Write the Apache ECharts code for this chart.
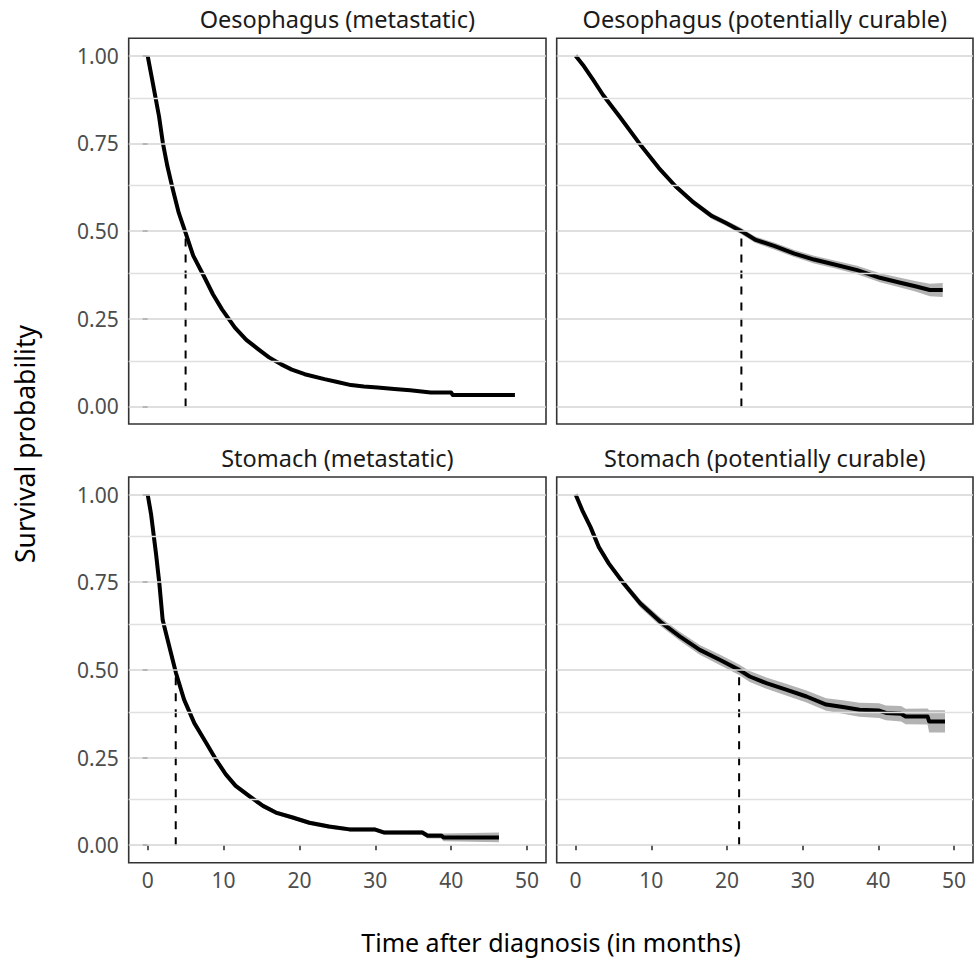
<!DOCTYPE html>
<html>
<head>
<meta charset="utf-8">
<script src="https://cdn.jsdelivr.net/npm/echarts@6/dist/echarts.min.js"></script>
<style>
  html, body { margin: 0; padding: 0; background: #fff; }
  #chart { width: 976px; height: 962px; }
</style>
</head>
<body>
<div id="chart"></div>
<script>
// ---- Data ----
const panelTitles = [
  'Oesophagus (metastatic)',
  'Oesophagus (potentially curable)',
  'Stomach (metastatic)',
  'Stomach (potentially curable)'
];

const xTickValues = [0, 10, 20, 30, 40, 50];
const yTickValues = [0, 0.25, 0.5, 0.75, 1];
const yTickLabels = ['0.00', '0.25', '0.50', '0.75', '1.00'];
const yMinorValues = [0.125, 0.375, 0.625, 0.875];

// Oesophagus (metastatic)
const oesMetTime = [0, 0.5, 1, 1.5, 2, 2.6, 3.3, 4.1, 5.0, 6.0, 7.4, 8.6, 9.8, 11.5, 13, 14.6, 16, 17.6, 19, 20.7, 23.3, 25, 26.8, 28.5, 30.3, 32.5, 34.6, 37.3, 40.0, 40.2, 48.4];
const oesMetSurv = [1, 0.943, 0.885, 0.827, 0.752, 0.685, 0.62, 0.552, 0.495, 0.43, 0.372, 0.32, 0.277, 0.225, 0.19, 0.163, 0.14, 0.12, 0.105, 0.092, 0.078, 0.07, 0.061, 0.057, 0.054, 0.05, 0.046, 0.040, 0.040, 0.033, 0.033];
const oesMetHalfCI = [0, 0.002, 0.003, 0.003, 0.004, 0.004, 0.004, 0.004, 0.004, 0.004, 0.004, 0.004, 0.004, 0.004, 0.003, 0.003, 0.003, 0.003, 0.003, 0.003, 0.003, 0.003, 0.003, 0.003, 0.003, 0.003, 0.003, 0.003, 0.003, 0.004, 0.005];
const oesMetMedian = 5.0;

// Oesophagus (potentially curable)
const oesCurTime = [0, 1.1, 2.3, 3.6, 5.8, 8.4, 11.0, 13.2, 15.4, 18.0, 19.8, 21.9, 23.7, 26.3, 28.9, 31.5, 34.2, 37.2, 40.2, 42.9, 45.0, 46.8, 48.5];
const oesCurSurv = [1, 0.97, 0.932, 0.889, 0.827, 0.751, 0.68, 0.628, 0.585, 0.543, 0.524, 0.5, 0.476, 0.457, 0.436, 0.419, 0.405, 0.389, 0.367, 0.353, 0.342, 0.332, 0.332];
const oesCurHalfCI = [0, 0.002, 0.003, 0.004, 0.005, 0.006, 0.007, 0.007, 0.008, 0.008, 0.008, 0.009, 0.009, 0.01, 0.01, 0.011, 0.011, 0.012, 0.013, 0.014, 0.015, 0.018, 0.02];
const oesCurMedian = 21.9;

// Stomach (metastatic)
const stoMetTime = [0, 0.44, 1.1, 1.54, 1.98, 2.86, 3.73, 4.8, 6.15, 7.7, 9.0, 10.3, 11.6, 13.4, 15.2, 16.9, 19.1, 21.3, 23.9, 26.6, 29.9, 31.2, 36.2, 36.9, 38.7, 39.0, 46.3];
const stoMetSurv = [1, 0.945, 0.831, 0.746, 0.642, 0.566, 0.491, 0.415, 0.348, 0.292, 0.244, 0.202, 0.169, 0.140, 0.112, 0.093, 0.079, 0.064, 0.053, 0.045, 0.045, 0.036, 0.036, 0.027, 0.027, 0.022, 0.022];
const stoMetHalfCI = [0, 0.003, 0.004, 0.005, 0.006, 0.007, 0.007, 0.008, 0.008, 0.008, 0.008, 0.008, 0.007, 0.007, 0.007, 0.006, 0.006, 0.006, 0.006, 0.006, 0.006, 0.006, 0.007, 0.008, 0.008, 0.011, 0.014];
const stoMetMedian = 3.7;

// Stomach (potentially curable)
const stoCurTime = [0, 0.88, 1.97, 3.07, 4.39, 6.36, 8.55, 11.2, 13.8, 16.4, 19.1, 21.6, 23.0, 25.2, 27.9, 30.5, 33.1, 35.3, 37.5, 40.1, 41.0, 43.0, 43.6, 46.5, 46.7, 48.8];
const stoCurSurv = [1, 0.955, 0.907, 0.85, 0.803, 0.746, 0.689, 0.637, 0.595, 0.557, 0.528, 0.5, 0.481, 0.462, 0.443, 0.424, 0.401, 0.394, 0.386, 0.384, 0.377, 0.375, 0.367, 0.367, 0.353, 0.353];
const stoCurHalfCI = [0, 0.004, 0.006, 0.008, 0.009, 0.01, 0.011, 0.012, 0.013, 0.014, 0.015, 0.015, 0.016, 0.016, 0.017, 0.017, 0.018, 0.019, 0.02, 0.021, 0.021, 0.022, 0.022, 0.023, 0.032, 0.032];
const stoCurMedian = 21.6;

const xAxisTitle = 'Time after diagnosis (in months)';
const yAxisTitle = 'Survival probability';

// ---- Build chart ----
const panels = [
  { time: oesMetTime, surv: oesMetSurv, hw: oesMetHalfCI, median: oesMetMedian },
  { time: oesCurTime, surv: oesCurSurv, hw: oesCurHalfCI, median: oesCurMedian },
  { time: stoMetTime, surv: stoMetSurv, hw: stoMetHalfCI, median: stoMetMedian },
  { time: stoCurTime, surv: stoCurSurv, hw: stoCurHalfCI, median: stoCurMedian }
];

const FONT = '"Noto Sans", "Open Sans", sans-serif';
const grids = [
  { left: 128.7, top: 38.3, width: 417.3, height: 385.7 },
  { left: 556.7, top: 38.3, width: 416.3, height: 385.7 },
  { left: 128.7, top: 477,  width: 417.3, height: 385.7 },
  { left: 556.7, top: 477,  width: 416.3, height: 385.7 }
];

const option = {
  animation: false,
  backgroundColor: '#ffffff',
  grid: grids.map(g => Object.assign({
    show: true, borderColor: '#333333', borderWidth: 1.6, backgroundColor: 'transparent',
    containLabel: false
  }, g)),
  xAxis: grids.map((g, i) => ({
    type: 'value', gridIndex: i, min: -2.5, max: 52.5,
    axisLine: { show: false },
    splitLine: { show: false },
    axisTick: { show: i >= 2, customValues: xTickValues, length: 5, lineStyle: { color: '#333333', width: 1.6 } },
    axisLabel: { show: i >= 2, customValues: xTickValues, fontSize: 21, fontFamily: FONT, color: '#4d4d4d', margin: 7 }
  })),
  yAxis: grids.map((g, i) => ({
    type: 'value', gridIndex: i, min: -0.05, max: 1.05,
    axisLine: { show: false },
    splitLine: { show: false },
    axisTick: { show: i % 2 === 0, customValues: yTickValues, length: 5, lineStyle: { color: '#333333', width: 1.6 } },
    axisLabel: {
      show: i % 2 === 0, customValues: yTickValues, fontSize: 21, fontFamily: FONT, color: '#4d4d4d', margin: 10,
      formatter: v => { const k = yTickValues.indexOf(v); return k >= 0 ? yTickLabels[k] : v.toFixed(2); }
    }
  })),
  graphic: [],
  series: []
};

panels.forEach((p, i) => {
  // gridlines
  option.series.push({
    type: 'line', xAxisIndex: i, yAxisIndex: i, data: [], z: 1, silent: true,
    markLine: {
      silent: true, symbol: ['none', 'none'], animation: false,
      label: { show: false },
      data: yTickValues.map(v => ({ yAxis: v, lineStyle: { color: '#d4d4d4', width: 1.6, type: 'solid' } }))
        .concat(yMinorValues.map(v => ({ yAxis: v, lineStyle: { color: '#e0e0e0', width: 1.3, type: 'solid' } })))
    }
  });
  // CI band (polygon through axis coordinates)
  const upper = p.time.map((t, k) => [t, p.surv[k] + p.hw[k]]);
  const lower = p.time.map((t, k) => [t, p.surv[k] - p.hw[k]]).reverse();
  option.series.push({
    type: 'custom', xAxisIndex: i, yAxisIndex: i, z: 2, silent: true,
    data: [[p.time[0], p.surv[0]]],
    renderItem: (params, api) => ({
      type: 'polygon',
      shape: { points: upper.concat(lower).map(d => api.coord(d)) },
      style: { fill: '#b3b3b3', stroke: 'none' }
    })
  });
  // median dashed line
  option.series.push({
    type: 'line', xAxisIndex: i, yAxisIndex: i, symbol: 'none', z: 3, silent: true,
    lineStyle: { color: '#000000', width: 2, type: [8, 8] },
    data: [[p.median, 0], [p.median, 0.5]]
  });
  // survival curve
  option.series.push({
    type: 'line', xAxisIndex: i, yAxisIndex: i, symbol: 'none', z: 4, silent: true,
    lineStyle: { color: '#000000', width: 4, join: 'round', cap: 'butt' },
    data: p.time.map((t, k) => [t, p.surv[k]])
  });
  // strip title
  const g = grids[i];
  option.graphic.push({
    type: 'text', silent: true,
    style: {
      text: panelTitles[i], x: g.left + g.width / 2, y: (i < 2 ? 19 : 457.5),
      align: 'center', verticalAlign: 'middle',
      fontSize: 23.5, fontFamily: FONT, fill: '#1a1a1a'
    }
  });
});

option.graphic.push({
  type: 'text', silent: true,
  style: { text: xAxisTitle, x: 551, y: 942, align: 'center', verticalAlign: 'middle', fontSize: 25, fontFamily: FONT, fill: '#000000' }
});
option.graphic.push({
  type: 'text', silent: true, x: 25, y: 444, rotation: Math.PI / 2,
  style: { text: yAxisTitle, x: 0, y: 0, align: 'center', verticalAlign: 'middle', fontSize: 26.5, fontFamily: FONT, fill: '#000000' }
});

const chart = echarts.init(document.getElementById('chart'), null, { renderer: 'svg', width: 976, height: 962 });
chart.setOption(option);
</script>
</body>
</html>
